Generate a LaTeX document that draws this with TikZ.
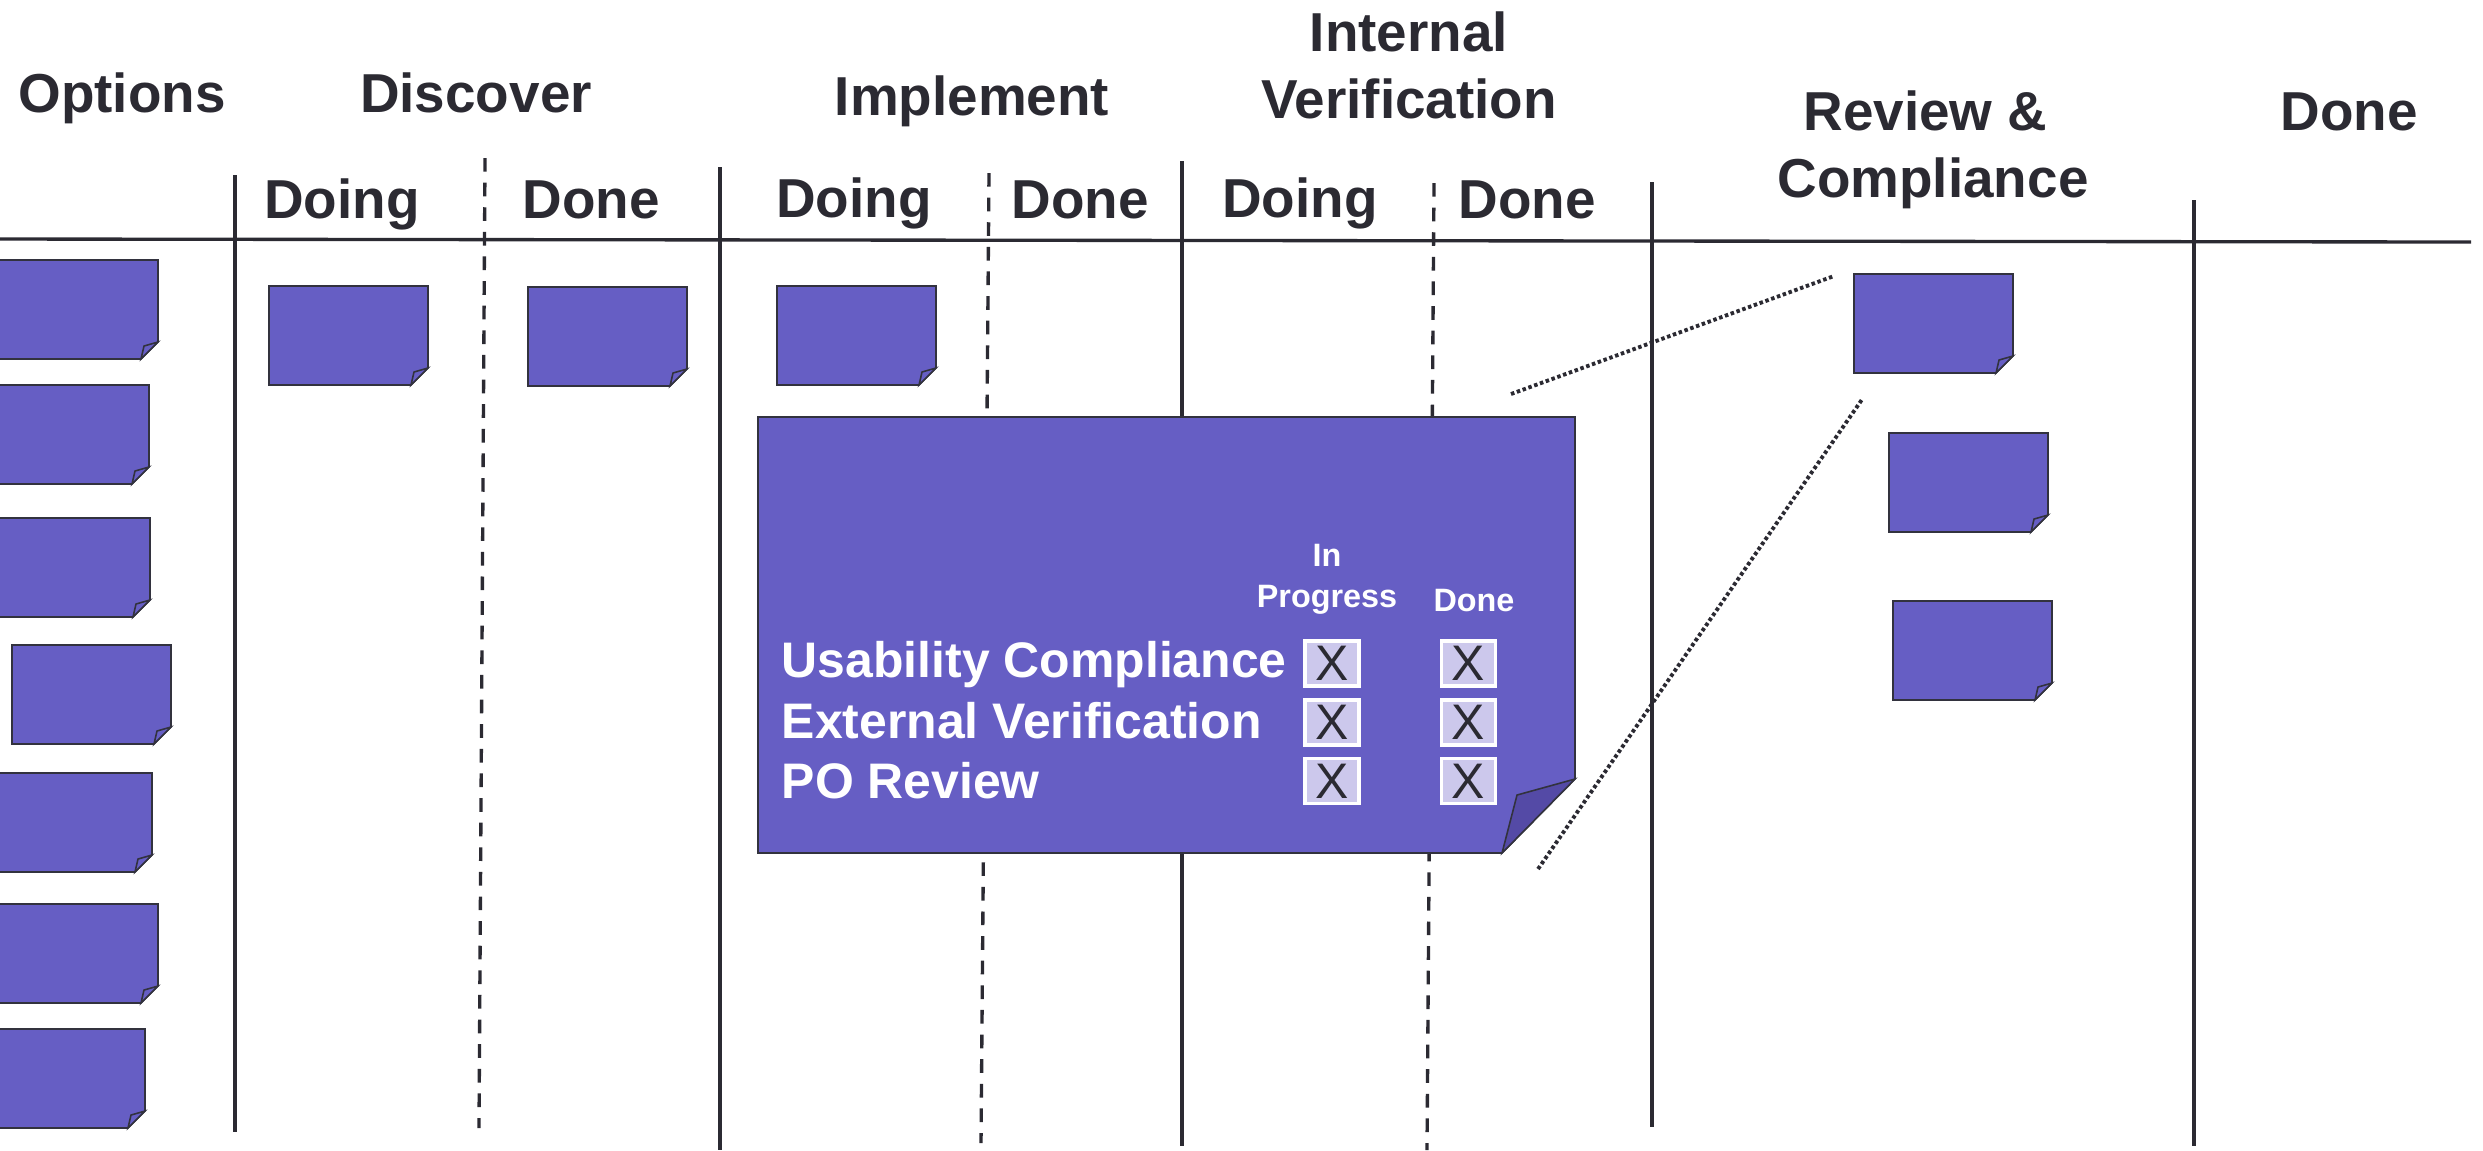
\documentclass[tikz,border=0pt]{standalone}
\usepackage{fontspec}
\setmainfont{Liberation Sans}

\definecolor{ink}{RGB}{43,42,50}
\definecolor{notefill}{RGB}{102,94,196}
\definecolor{flapfill}{RGB}{84,74,166}
\definecolor{noteline}{RGB}{50,50,62}
\definecolor{boxfill}{RGB}{204,200,236}

\tikzset{
  board/.style={draw=ink, line width=0.95pt},
  sublane/.style={board, dash pattern=on 3.9pt off 3.1pt},
  note/.style={fill=notefill, draw=noteline, line width=0.45pt},
  bigflap/.style={note, fill=flapfill},
  zoomline/.style={draw=ink, line width=1.1pt, dash pattern=on 1pt off 0.75pt},
  lane/.style={text=ink, font=\fontsize{15.6}{18.9}\selectfont\bfseries,
    anchor=base, align=center, inner sep=0pt},
  task/.style={text=white, font=\fontsize{14.2}{17}\selectfont\bfseries,
    anchor=base west, inner sep=0pt},
  state/.style={text=white, font=\fontsize{9.2}{11.4}\selectfont\bfseries,
    anchor=base, align=center, inner sep=0pt},
  checkbox/.style={draw=white, line width=1.1pt, fill=boxfill, inner sep=0pt,
    minimum width=0.54cm, minimum height=0.45cm, text=ink,
    font=\fontsize{14.2}{17}\selectfont}
}

% sticky note: #1 = left, #2 = top (pixels, y downwards)
\newcommand{\stickynote}[2]{%
  \draw[note] (#1,#2) -- ++(159,0) -- ++(0,82) -- ++(-17,17) -- ++(-142,0) -- cycle;
  \draw[note] (#1+159,#2+82) -- (#1+145,#2+86) -- (#1+142,#2+99) -- cycle;
}

\begin{document}
\begin{tikzpicture}[x=0.01cm, y=-0.01cm]
  \useasboundingbox (0,0) rectangle (2483,1150);

  % column headers (two-line ones sit on their last baseline)
  \node[lane] (options) at (122,112) {Options};
  \node[lane] (discover) at (476,112) {Discover};
  \node[lane] (implement) at (972,115) {Implement};
  \node[lane] (internal) at (1409,118) {Internal\\Verification};
  \node[lane] (review) at (1933,197) {Review \&\hspace*{0.278em}\\Compliance};
  \node[lane] (finished) at (2349,130) {Done};

  \node[lane] (discDoing) at (342,218) {Doing};
  \node[lane] (discDone) at (591,218) {Done};
  \node[lane] (implDoing) at (854,217) {Doing};
  \node[lane] (implDone) at (1080,218) {Done};
  \node[lane] (verDoing) at (1300,217) {Doing};
  \node[lane] (verDone) at (1527,218) {Done};

  % board lines
  \draw[board] (0,239) -- (2471,242);
  \draw[board] (235,175) -- (235,1132);
  \draw[board] (720,167) -- (720,1150);
  \draw[board] (1182,161) -- (1182,1146);
  \draw[board] (1652,182) -- (1652,1127);
  \draw[board] (2194,200) -- (2194,1146);
  \draw[sublane] (485,158) -- (479,1128);
  \draw[sublane] (989,173) -- (981,1143);
  \draw[sublane] (1434,183) -- (1427,1150);

  % options
  \stickynote{-1}{260}
  \stickynote{-10}{385}
  \stickynote{-9}{518}
  \stickynote{12}{645}
  \stickynote{-7}{773}
  \stickynote{-1}{904}
  \stickynote{-14}{1029}

  % work in progress
  \stickynote{269}{286}
  \stickynote{528}{287}
  \stickynote{777}{286}

  % review & compliance
  \stickynote{1854}{274}
  \stickynote{1889}{433}
  \stickynote{1893}{601}

  % enlarged note
  \draw[note] (758,417) -- (1575,417) -- (1575,779) -- (1502,853) -- (758,853) -- cycle;
  \draw[bigflap] (1575,779) -- (1517,795) -- (1502,853) -- cycle;

  \node[state] (inProg) at (1327,607) {In\\Progress};
  \node[state] (doneHead) at (1474,611) {Done};

  \node[task] (usability) at (781,677) {Usability Compliance};
  \node[task] (external) at (781,738) {External Verification};
  \node[task] (poreview) at (781,798) {PO Review};

  \node[checkbox] (usaProg) at (1332,663.5) {X};
  \node[checkbox] (usaDone) at (1468.5,663.5) {X};
  \node[checkbox] (extProg) at (1332,722.5) {X};
  \node[checkbox] (extDone) at (1468.5,722.5) {X};
  \node[checkbox] (poProg) at (1332,781) {X};
  \node[checkbox] (poDone) at (1468.5,781) {X};

  % zoom lines
  \coordinate (zoomTopA) at (1511,394);
  \coordinate (zoomTopB) at (1834,276);
  \coordinate (zoomLowA) at (1538,869);
  \coordinate (zoomLowB) at (1863,398);
  \draw[zoomline] (zoomTopA) -- (zoomTopB);
  \draw[zoomline] (zoomLowA) -- (zoomLowB);
\end{tikzpicture}
\end{document}
